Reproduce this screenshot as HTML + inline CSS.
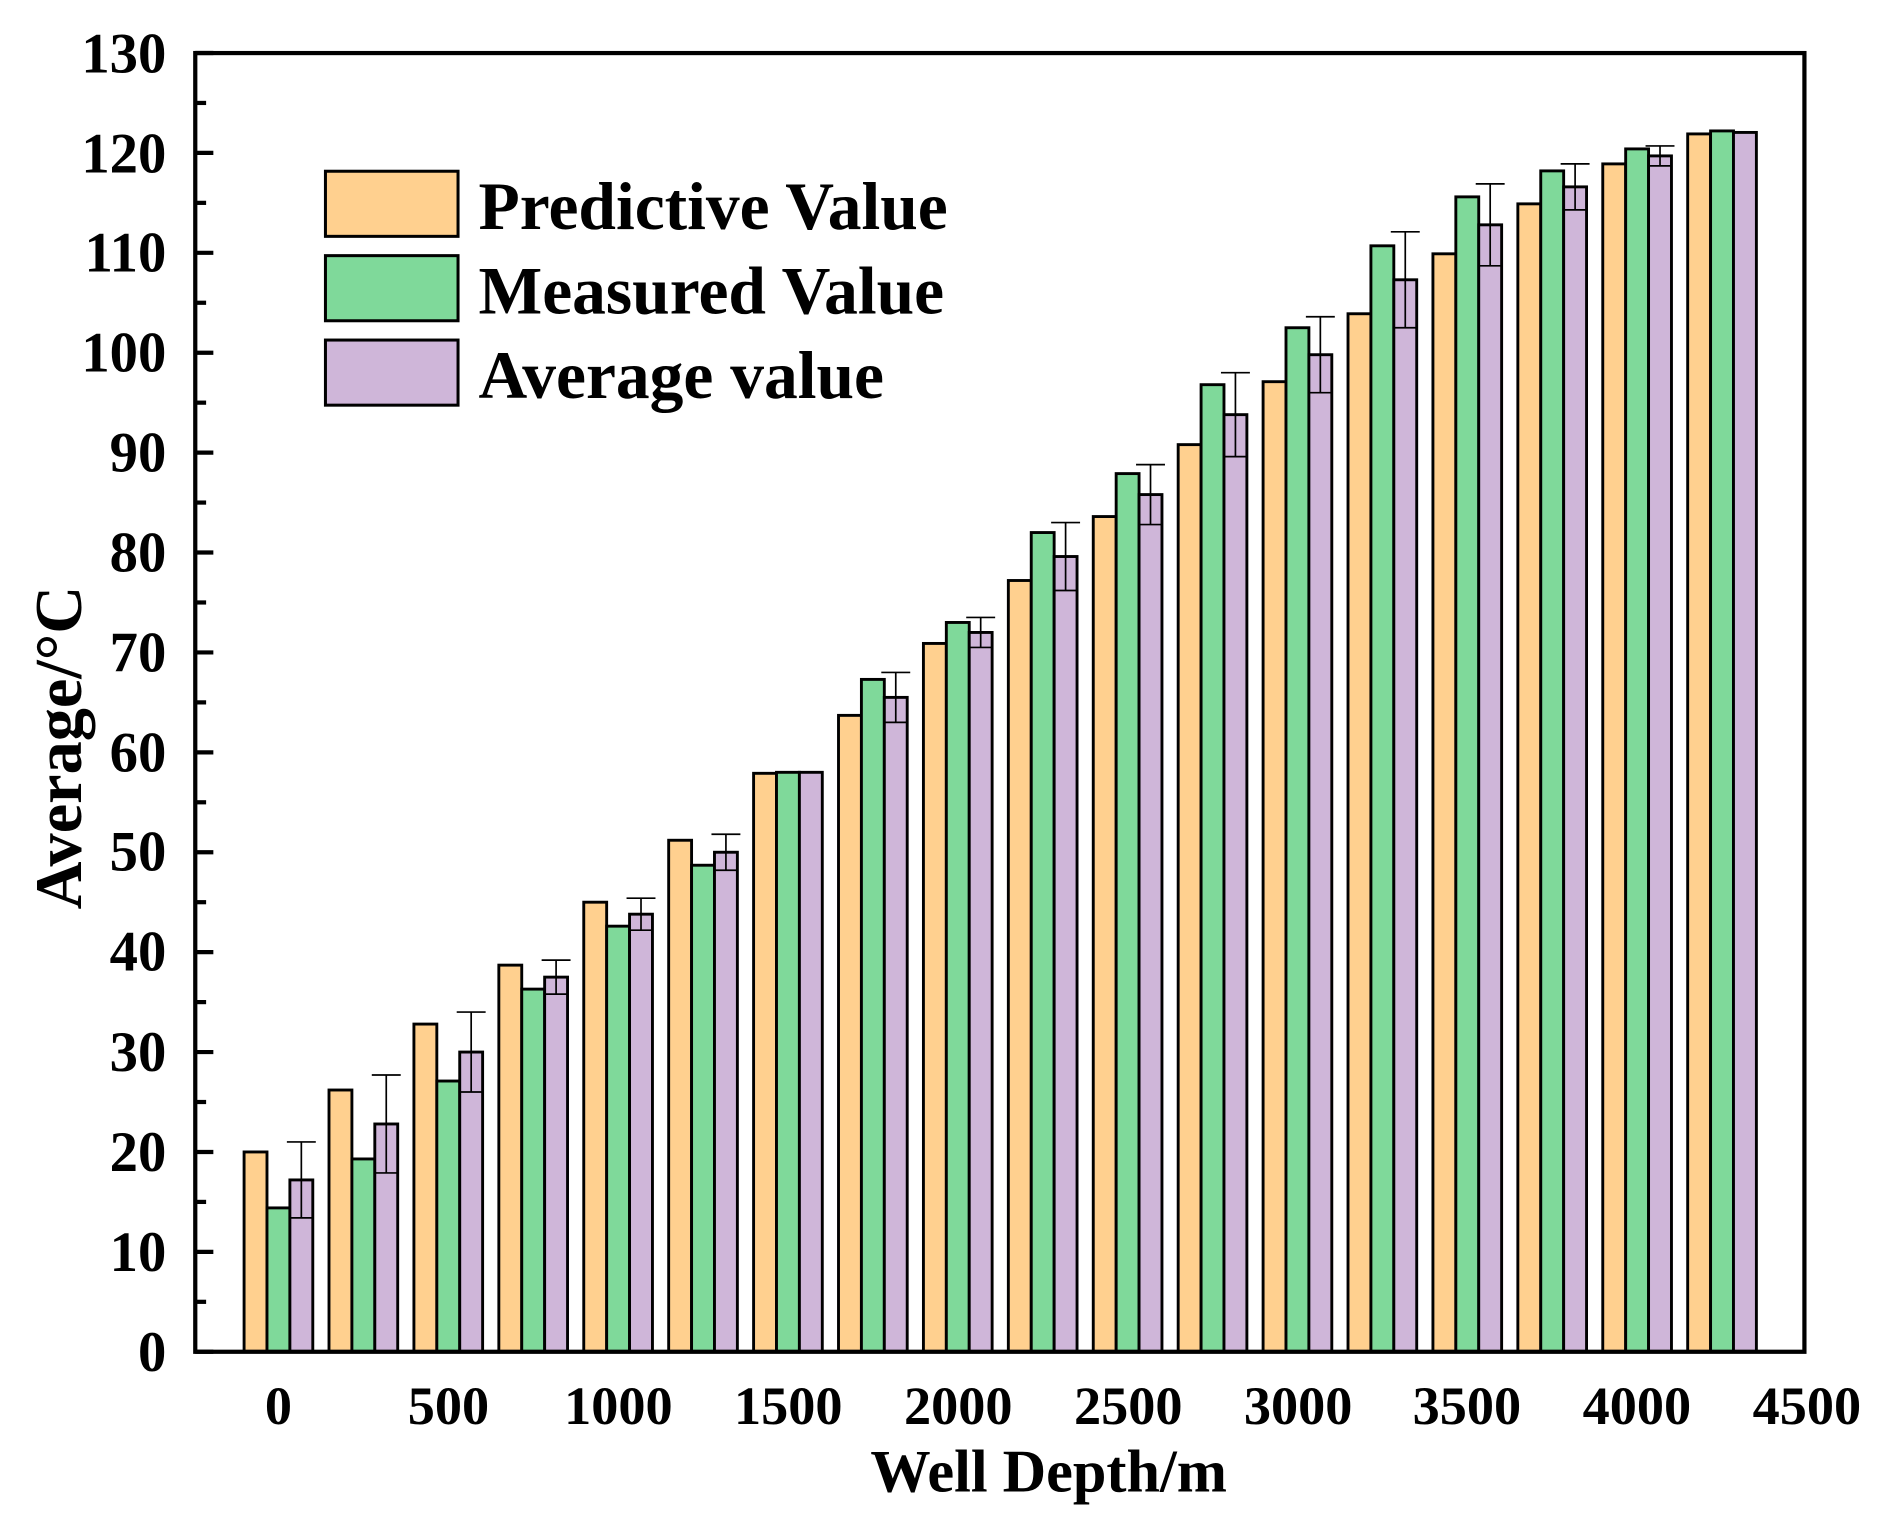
<!DOCTYPE html>
<html><head><meta charset="utf-8"><style>html,body{margin:0;padding:0;background:#fff}svg{display:block}</style></head>
<body>
<svg id="c" width="1890" height="1523" viewBox="0 0 1568 1263" preserveAspectRatio="none" xmlns="http://www.w3.org/2000/svg" font-family="'Liberation Serif',serif" font-weight="bold">
<g id="bars"></g>
<g stroke="#000" stroke-width="3.5" fill="none">
<rect x="162" y="44" width="1335" height="1077"/>
</g>
<g id="ticks" stroke="#000" stroke-width="3.5"></g>
<g font-size="47" text-anchor="end">
<text x="138" y="1137">0</text><text x="138" y="1054">10</text><text x="138" y="971">20</text><text x="138" y="888">30</text><text x="138" y="805">40</text><text x="138" y="722">50</text><text x="138" y="640">60</text><text x="138" y="557">70</text><text x="138" y="474">80</text><text x="138" y="391">90</text><text x="138" y="308">100</text><text x="138" y="225">110</text><text x="138" y="143">120</text><text x="138" y="60">130</text>
</g>
<g font-size="45" text-anchor="middle">
<text x="231" y="1181">0</text><text x="372" y="1181">500</text><text x="513" y="1181">1000</text><text x="654" y="1181">1500</text><text x="795" y="1181">2000</text><text x="936" y="1181">2500</text><text x="1077" y="1181">3000</text><text x="1217" y="1181">3500</text><text x="1358" y="1181">4000</text><text x="1499" y="1181">4500</text>
</g>
<text x="870" y="1237" font-size="50" text-anchor="middle">Well Depth/m</text>
<text transform="translate(67,620) rotate(-90)" font-size="55" text-anchor="middle">Average/°C</text>
<g stroke="#000" stroke-width="2.5">
<rect x="270" y="142" width="110" height="54" fill="#FFD08F"/>
<rect x="270" y="212" width="110" height="54" fill="#7FD99A"/>
<rect x="270" y="282" width="110" height="54" fill="#CFB6D9"/>
</g>
<g font-size="56">
<text x="397" y="190">Predictive Value</text>
<text x="397" y="260">Measured Value</text>
<text x="397" y="330">Average value</text>
</g>
</svg>
<script>
(function(){
var NS="http://www.w3.org/2000/svg";
var d=[[20,14.4,17.2,3.8],[26.2,19.3,22.8,4.9],[32.8,27.1,30,4],[38.7,36.3,37.5,1.7],[45,42.6,43.8,1.6],[51.2,48.7,50,1.8],[57.9,58,58,0],[63.7,67.3,65.5,2.5],[70.9,73,72,1.5],[77.2,82,79.6,3.4],[83.6,87.9,85.8,3],[90.8,96.8,93.8,4.2],[97.1,102.5,99.8,3.8],[103.9,110.7,107.3,4.8],[109.9,115.6,112.8,4.1],[114.9,118.2,116.6,2.3],[118.9,120.4,119.7,1],[121.9,122.2,122.05,0]];
var g=document.getElementById('bars');
function Y(v){return 1121-v*8.285;}
function el(n,a){var e=document.createElementNS(NS,n);for(var k in a)e.setAttribute(k,a[k]);g.appendChild(e);return e;}
var cols=["#FFD08F","#7FD99A","#CFB6D9"],w=19;
d.forEach(function(r,i){
 var c=231+i*70.45;
 for(var j=0;j<3;j++){var x=c-1.5*w+j*w;el('rect',{x:x,y:Y(r[j]),width:w,height:1121-Y(r[j]),fill:cols[j],stroke:'#000','stroke-width':2.4});}
 if(r[3]>0){var cx=c+w;
  el('line',{x1:cx,x2:cx,y1:Y(r[2]-r[3]),y2:Y(r[2]+r[3]),stroke:'#000','stroke-width':1.4});
  el('line',{x1:cx-12,x2:cx+12,y1:Y(r[2]+r[3]),y2:Y(r[2]+r[3]),stroke:'#000','stroke-width':1.4});
  el('line',{x1:cx-w/2,x2:cx+w/2,y1:Y(r[2]-r[3]),y2:Y(r[2]-r[3]),stroke:'#000','stroke-width':1.4});}
});
var t=document.getElementById('ticks');
for(var v=0;v<=130;v+=5){var y=Y(v),l=(v%10==0)?15:9;var e=document.createElementNS(NS,'line');e.setAttribute('x1',162);e.setAttribute('x2',162+l);e.setAttribute('y1',y);e.setAttribute('y2',y);t.appendChild(e);}
})();
</script>
</body></html>
